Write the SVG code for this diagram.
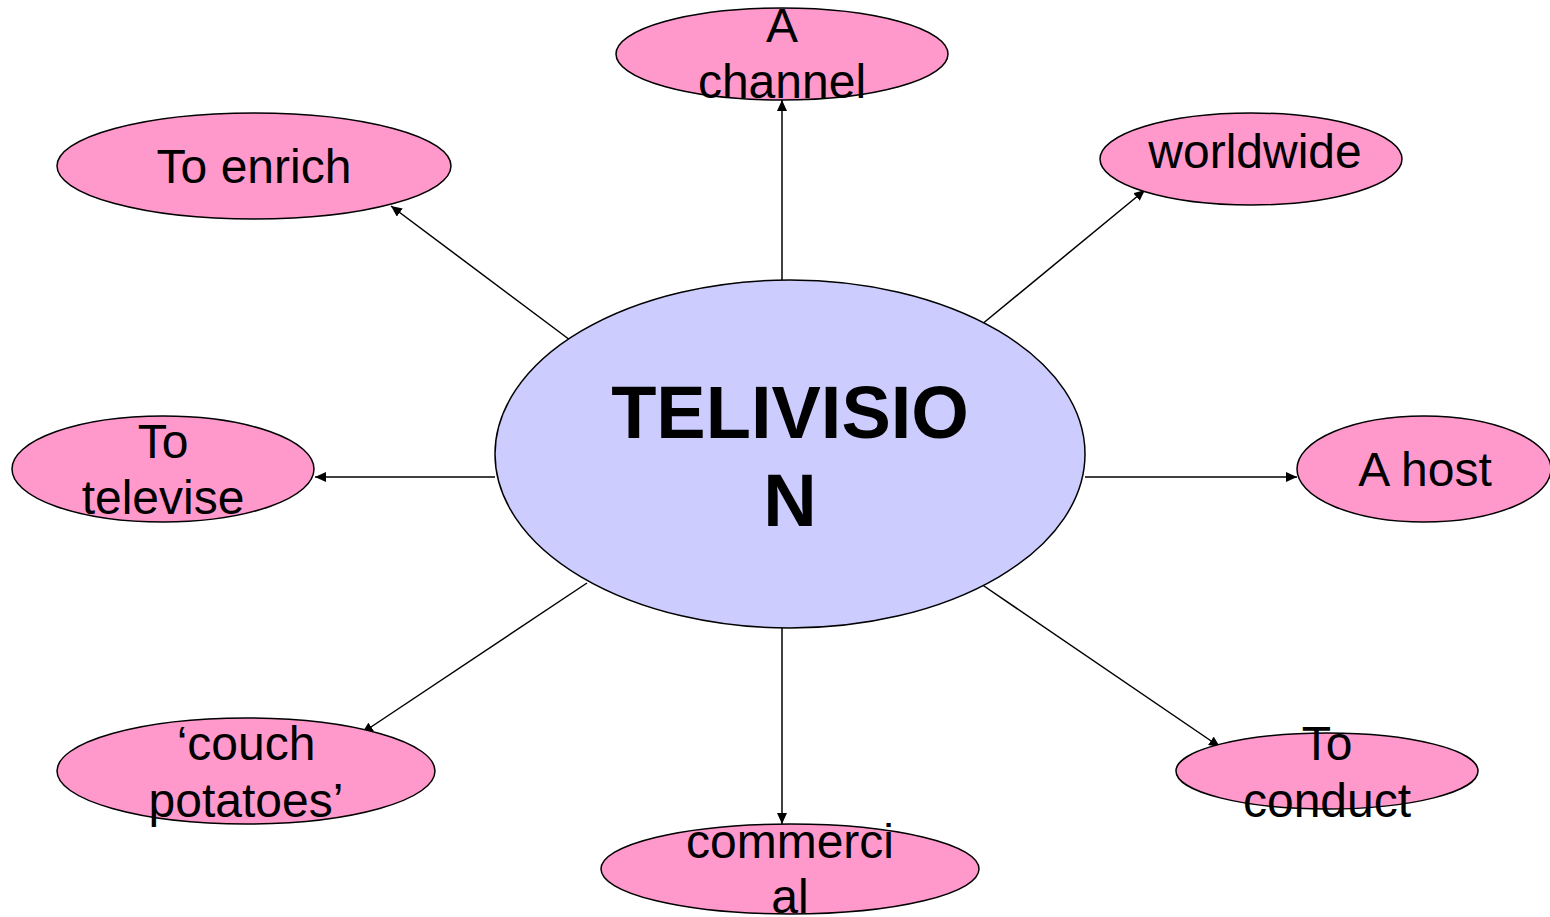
<svg xmlns="http://www.w3.org/2000/svg" width="1550" height="917" viewBox="0 0 1550 917">
<style>
.leaf{fill:#FF99CC;stroke:#000;stroke-width:1.5}
.hub{fill:#CCCCFF;stroke:#000;stroke-width:1.5}
.t{font-family:"Liberation Sans",Arial,sans-serif;font-size:48px;fill:#000;text-anchor:middle}
.tb{font-family:"Liberation Sans",Arial,sans-serif;font-size:74px;font-weight:bold;fill:#000;text-anchor:middle}
.c{stroke:#000;stroke-width:1.5;fill:none;marker-end:url(#ah)}
</style>
<defs>
<marker id="ah" markerUnits="userSpaceOnUse" markerWidth="12" markerHeight="10" refX="11" refY="5" orient="auto">
<path d="M0,0 L11,5 L0,10 Z" fill="#000"/>
</marker>
</defs>
<rect width="1550" height="917" fill="#fff"/>
<g id="connectors">
<line class="c" x1="782" y1="280" x2="782" y2="100"/>
<line class="c" x1="570" y1="340" x2="391" y2="206"/>
<line class="c" x1="981" y1="325" x2="1145" y2="190"/>
<line class="c" x1="495" y1="477" x2="315" y2="477"/>
<line class="c" x1="1085" y1="477" x2="1297" y2="477"/>
<line class="c" x1="587" y1="583" x2="362" y2="733"/>
<line class="c" x1="782" y1="628" x2="782" y2="824"/>
<line class="c" x1="981" y1="584" x2="1220" y2="747"/>
</g>
<g id="television">
<ellipse class="hub" cx="790" cy="454" rx="295" ry="174"/>
<text class="tb" x="790" y="438">TELIVISIO</text>
<text class="tb" x="790" y="526">N</text>
</g>
<g id="channel">
<ellipse class="leaf" cx="782" cy="54" rx="166" ry="46"/>
<text class="t" x="782" y="42">A</text>
<text class="t" x="782" y="98">channel</text>
</g>
<g id="enrich">
<ellipse class="leaf" cx="254" cy="166" rx="197" ry="53"/>
<text class="t" x="254" y="183">To enrich</text>
</g>
<g id="worldwide">
<ellipse class="leaf" cx="1251" cy="159" rx="151" ry="46"/>
<text class="t" x="1255" y="168">worldwide</text>
</g>
<g id="televise">
<ellipse class="leaf" cx="163" cy="469" rx="151" ry="53"/>
<text class="t" x="163" y="458">To</text>
<text class="t" x="163" y="514">televise</text>
</g>
<g id="host">
<ellipse class="leaf" cx="1424" cy="469" rx="127" ry="53"/>
<text class="t" x="1425" y="486">A host</text>
</g>
<g id="couch">
<ellipse class="leaf" cx="246" cy="771" rx="189" ry="53"/>
<text class="t" x="246" y="760">‘couch</text>
<text class="t" x="246" y="817">potatoes’</text>
</g>
<g id="commercial">
<ellipse class="leaf" cx="790" cy="869" rx="189" ry="45"/>
<text class="t" x="790" y="858">commerci</text>
<text class="t" x="790" y="913">al</text>
</g>
<g id="conduct">
<ellipse class="leaf" cx="1327" cy="771" rx="151" ry="38"/>
<text class="t" x="1327" y="760">To</text>
<text class="t" x="1327" y="817">conduct</text>
</g>
</svg>
